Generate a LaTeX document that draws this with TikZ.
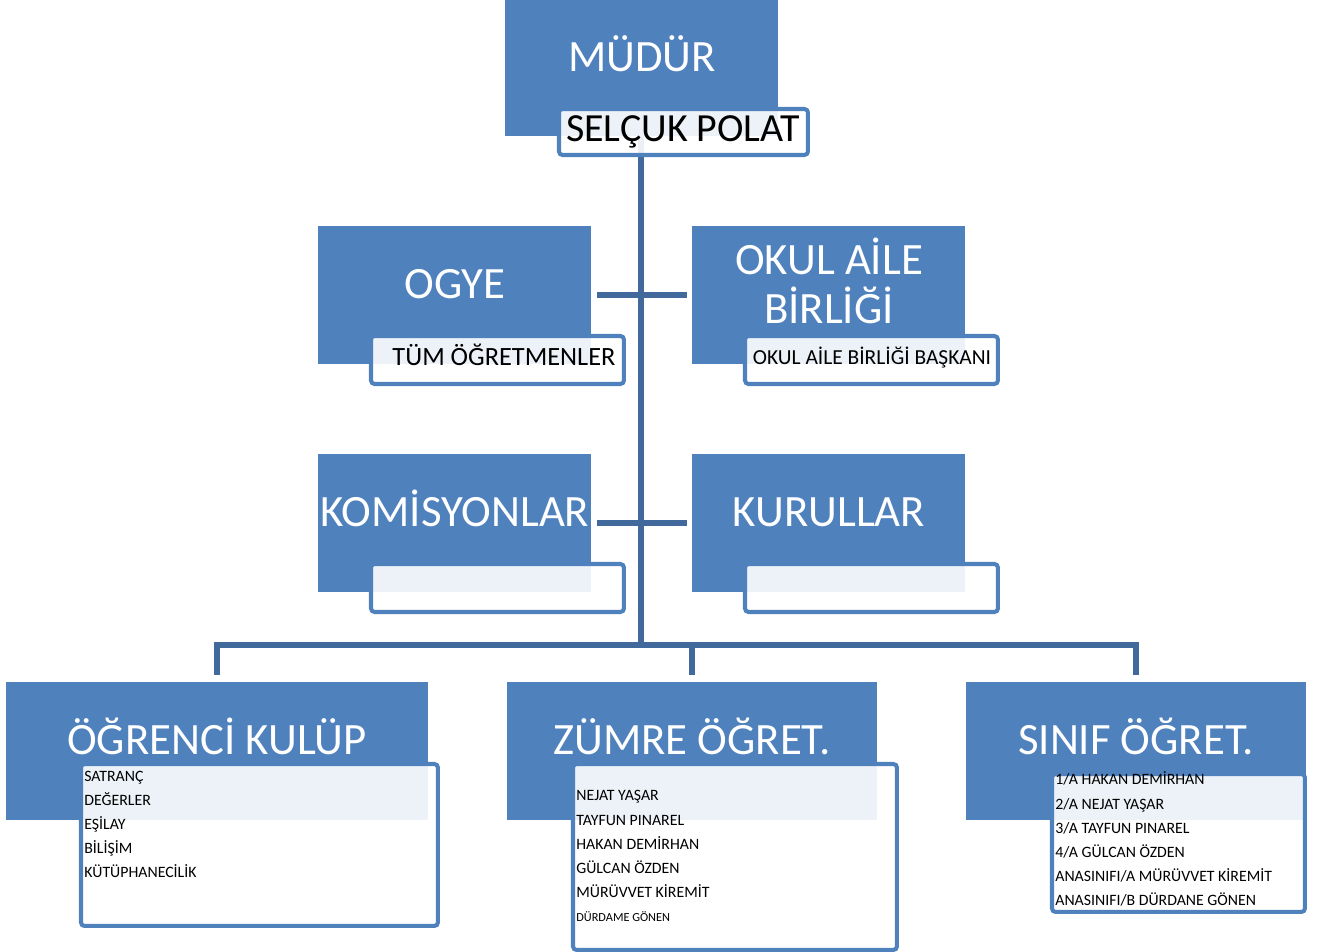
\documentclass[tikz,border=0pt]{standalone}
\usepackage{fontspec}
\setmainfont{Carlito}
\usepackage{tikz}

\definecolor{boxblue}{HTML}{4F81BD}
\definecolor{linkblue}{HTML}{41699B}

\begin{document}
\begin{tikzpicture}[x=0.02cm,y=-0.02cm,
    unit/.style={fill=boxblue,draw=none,anchor=north west,inner sep=0pt,outer sep=0pt},
    smallunit/.style={unit,minimum width=5.46cm,minimum height=2.76cm},
    namebox/.style={draw=boxblue,line width=2.3pt,rounded corners=2pt,fill=white,fill opacity=0.9,anchor=north west,inner sep=0pt,outer sep=0pt},
    title/.style={text=white,anchor=base,inner sep=0pt,font=\fontsize{25.5}{28}\selectfont},
    person/.style={text=black,anchor=base,inner sep=0pt},
    list/.style={text=black,anchor=base west,inner sep=0pt,align=left,font=\fontsize{9}{13.8}\selectfont},
    link/.style={draw=linkblue,line width=3.4pt}]
                      \useasboundingbox (0,0) rectangle (1320,952);
                      % connectors
                      \coordinate (bus) at (641,645);
                      \node (mudur) at (505,0) [unit,minimum width=5.46cm,minimum height=2.72cm] {};
                      \draw[link] (mudur.south -| bus) -- (bus);
                      % boxes
                      \node (ogye) at (318,226) [smallunit] {};
                      \node (oab) at (692,226) [smallunit] {};
                      \node (komisyon) at (318,454) [smallunit] {};
                      \node (kurul) at (692,454) [smallunit] {};
                      \node (kulup) at (6,682) [unit,minimum width=8.44cm,minimum height=2.76cm] {};
                      \node (zumre) at (507,682) [unit,minimum width=7.40cm,minimum height=2.76cm] {};
                      \node (sinif) at (966,682) [unit,minimum width=6.80cm,minimum height=2.76cm] {};
                      \draw[link,shorten <=0.12cm,shorten >=0.10cm] (ogye.east) -- (oab.west);
                      \draw[link,shorten <=0.12cm,shorten >=0.10cm] (komisyon.east) -- (kurul.west);
                      \draw[link,shorten <=0.14cm,shorten >=0.14cm] (kulup.north) |- (bus) -| (sinif.north);
                      \draw[link,shorten <=0.14cm] (zumre.north) -- (zumre.north |- bus);
                      % name boxes
                      \node (selcuk) at (559,109) [namebox,minimum width=4.98cm,minimum height=0.92cm] {};
                      \node (tum) at (371,336) [namebox,minimum width=5.06cm,minimum height=0.96cm] {};
                      \node (baskan) at (745,336) [namebox,minimum width=5.06cm,minimum height=0.96cm] {};
                      \node (kom2) at (371,564) [namebox,minimum width=5.06cm,minimum height=0.96cm] {};
                      \node (kur2) at (745,564) [namebox,minimum width=5.06cm,minimum height=0.96cm] {};
                      \node (kulup2) at (81,764) [namebox,minimum width=7.14cm,minimum height=3.24cm] {};
                      \node (zumre2) at (573,764) [namebox,minimum width=6.48cm,minimum height=3.72cm] {};
                      \node (sinif2) at (1052,774) [namebox,minimum width=5.06cm,minimum height=2.76cm] {};
                      % titles
                      \node (t1) at (642,72) [title] {MÜDÜR};
                      \node (t2) at (455,299) [title] {OGYE};
                      \node (t3) at (829,281) [title,anchor=center,align=center] {OKUL AİLE\\BİRLİĞİ};
                      \node (t4) at (455,527) [title] {KOMİSYONLAR};
                      \node (t5) at (829,527) [title] {KURULLAR};
                      \node (t6) at (217,755) [title] {ÖĞRENCİ KULÜP};
                      \node (t7) at (692,755) [title] {ZÜMRE ÖĞRET.};
                      \node (t8) at (1136,755) [title] {SINIF ÖĞRET.};
                      % names
                      \node (p1) at (683,142) [person,font=\fontsize{22.7}{26}\selectfont] {SELÇUK POLAT};
                      \node (p2) at (504,366) [person,font=\fontsize{15}{18}\selectfont] {TÜM ÖĞRETMENLER};
                      \node (p3) at (872,365) [person,font=\fontsize{12.2}{14}\selectfont] {OKUL AİLE BİRLİĞİ BAŞKANI};
                      \node (l1) at (84,878) [list] {SATRANÇ\\DEĞERLER\\EŞİLAY\\BİLİŞİM\\KÜTÜPHANECİLİK};
                      \node (l2) at (576,922) [list] {NEJAT YAŞAR\\TAYFUN PINAREL\\HAKAN DEMİRHAN\\GÜLCAN ÖZDEN\\MÜRÜVVET KİREMİT\\{\fontsize{7}{13}\selectfont DÜRDAME GÖNEN}};
                      \node (l3) at (1055,906) [list] {1/A HAKAN DEMİRHAN\\2/A NEJAT YAŞAR\\3/A TAYFUN PINAREL\\4/A GÜLCAN ÖZDEN\\ANASINIFI/A MÜRÜVVET KİREMİT\\ANASINIFI/B DÜRDANE GÖNEN};
                \end{tikzpicture}
\end{document}
